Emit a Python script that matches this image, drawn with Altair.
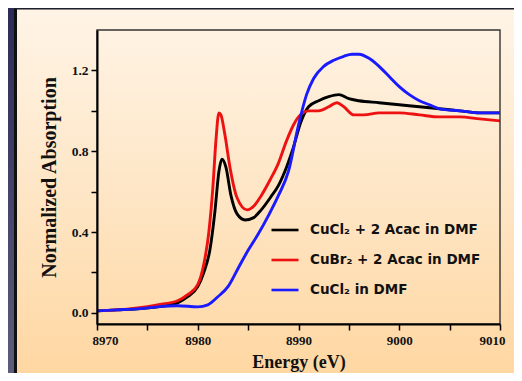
import altair as alt
import pandas as pd

# ---- data ----
black_e = [8970, 8972, 8974, 8976, 8978, 8979, 8980, 8980.6, 8981.2, 8981.7, 8982.1, 8982.4,
           8982.8, 8983.3, 8983.9, 8984.7, 8985.5, 8986.3, 8987.2, 8988, 8988.8, 8989.5, 8990.2,
           8991, 8992, 8993, 8994, 8995, 8996, 8998, 9000, 9002, 9004, 9006, 9008, 9010]
black_v = [0.01, 0.015, 0.02, 0.03, 0.05, 0.08, 0.13, 0.2, 0.31, 0.5, 0.7, 0.76,
           0.72, 0.58, 0.49, 0.46, 0.47, 0.51, 0.57, 0.63, 0.72, 0.82, 0.94,
           1.02, 1.05, 1.07, 1.08, 1.06, 1.05, 1.04, 1.03, 1.02, 1.01, 1.0, 0.99, 0.99]

red_e = [8970, 8972, 8974, 8976, 8978, 8979, 8980, 8980.6, 8981.1, 8981.5, 8981.8, 8982.1,
         8982.3, 8982.7, 8983.2, 8983.9, 8984.9, 8985.6, 8986.3, 8987.2, 8988, 8988.8, 8989.5,
         8990, 8991, 8992, 8993, 8993.8, 8994.5, 8995.5, 8996.5, 8998, 9000, 9002, 9004, 9006,
         9008, 9010]
red_v = [0.01, 0.015, 0.025, 0.04, 0.06, 0.09, 0.14, 0.24, 0.4, 0.62, 0.85, 0.99,
         0.98, 0.88, 0.72, 0.57, 0.51, 0.53, 0.58, 0.66, 0.74, 0.85, 0.93,
         0.97, 1.0, 1.0, 1.02, 1.04, 1.02, 0.98, 0.98, 0.99, 0.99, 0.98, 0.97, 0.97,
         0.96, 0.95]

blue_e = [8970, 8972, 8974, 8976, 8978, 8980, 8981, 8982, 8983, 8984, 8985, 8986, 8987, 8988,
          8989, 8990, 8990.8, 8991.5, 8992.5, 8993.5, 8994.5, 8995.3, 8996, 8997, 8998, 8999,
          9000, 9001, 9002, 9003, 9004, 9006, 9008, 9010]
blue_v = [0.01, 0.015, 0.02, 0.03, 0.035, 0.03, 0.04, 0.08, 0.13, 0.22, 0.31, 0.39, 0.48, 0.58,
          0.7, 0.93, 1.08, 1.16, 1.22, 1.25, 1.27, 1.28, 1.28, 1.26, 1.22, 1.17,
          1.12, 1.08, 1.05, 1.03, 1.01, 1.0, 0.99, 0.99]

series_names = ["CuCl\u2082 + 2 Acac in DMF", "CuBr\u2082 + 2 Acac in DMF", "CuCl\u2082 in DMF"]
series_colors = ["#000000", "#ee1111", "#1a1aff"]

x_ticks = [8970, 8975, 8980, 8985, 8990, 8995, 9000, 9005, 9010]
y_ticks = [0.0, 0.2, 0.4, 0.6, 0.8, 1.0, 1.2]

rows = []
for name, es, vs in zip(series_names, [black_e, red_e, blue_e], [black_v, red_v, blue_v]):
    for e, v in zip(es, vs):
        rows.append({"energy": e, "absorb": v, "series": name})
df = pd.DataFrame(rows)
one = pd.DataFrame({"a": [0]})

W, H = 403, 294
PL, PT, PR, PB = 89, 22, 14, 49

outer_bg = alt.Chart(one).mark_rect(
    fill=alt.Gradient(gradient="linear",
                      stops=[alt.GradientStop(color="#2c2c56", offset=0),
                             alt.GradientStop(color="#5c5c7c", offset=1)],
                      x1=0, x2=0, y1=0, y2=1),
    stroke=None
).encode(x=alt.value(-PL), x2=alt.value(W + PR), y=alt.value(-PT), y2=alt.value(H + PB))

shadow = alt.Chart(one).mark_rect(fill="#111111").encode(
    x=alt.value(-83), x2=alt.value(W + PR), y=alt.value(-21.5), y2=alt.value(H + PB))

panel = alt.Chart(one).mark_rect(
    fill=alt.Gradient(gradient="linear",
                      stops=[alt.GradientStop(color="#fff4e6", offset=0),
                             alt.GradientStop(color="#fee6c6", offset=0.5),
                             alt.GradientStop(color="#ffd7a2", offset=1)],
                      x1=0, x2=0, y1=0, y2=1),
    stroke=None
).encode(x=alt.value(-80), x2=alt.value(W + PR), y=alt.value(-20.5), y2=alt.value(H + PB))

frame = alt.Chart(one).mark_rect(filled=False, stroke="#333333", strokeWidth=1.4).encode(
    x=alt.value(0), x2=alt.value(W), y=alt.value(0), y2=alt.value(H))

lines = alt.Chart(df).mark_line(strokeWidth=2.9, interpolate="monotone", clip=True).encode(
    x=alt.X("energy:Q", title="Energy (eV)",
            scale=alt.Scale(domain=[8970, 9010], nice=False, zero=False),
            axis=alt.Axis(values=x_ticks, format="d", labelFlush=True, labelFlushOffset=5,
                          labelExpr="datum.value % 10 == 0 ? datum.label : ''",
                          grid=False, zindex=1)),
    y=alt.Y("absorb:Q", title="Normalized Absorption",
            scale=alt.Scale(domain=[-0.055, 1.4], nice=False, zero=False),
            axis=alt.Axis(values=y_ticks, format=".1f", labelFlush=False,
                          labelExpr="(round(datum.value*10) % 4 == 0) ? datum.label : ''",
                          grid=False, zindex=1)),
    color=alt.Color("series:N", sort=series_names,
                    scale=alt.Scale(domain=series_names, range=series_colors),
                    legend=alt.Legend(title=None, orient="none", legendX=173, legendY=185,
                                      symbolType="stroke", symbolSize=729,
                                      symbolStrokeWidth=2.6, labelOffset=10, rowPadding=8,
                                      labelLimit=300,
                                      labelFont="DejaVu Sans", labelFontWeight="bold",
                                      labelFontSize=13.5, labelColor="#111111")),
    detail="series:N",
)

chart = alt.layer(outer_bg, shadow, panel, lines, frame).properties(
    width=W, height=H,
    autosize=alt.AutoSizeParams(type="none"),
    padding={"left": PL, "top": PT, "right": PR, "bottom": PB},
    background="#3a3a60",
).configure_view(stroke=None).configure_axis(
    domainColor="#000000", domainWidth=2, tickColor="#000000", tickWidth=1.5, tickSize=6,
    labelFont="Liberation Serif", labelFontWeight="bold", labelColor="#111111",
    titleFont="Liberation Serif", titleFontWeight="bold", titleColor="#111111",
).configure_axisX(labelFontSize=13, labelPadding=4, titlePadding=6,
                  titleFontSize=18).configure_axisY(
    labelFontSize=13.5, labelPadding=3, titlePadding=12, titleFontSize=20)

chart.save("out.html", embed_options={"renderer": "svg", "actions": False})
